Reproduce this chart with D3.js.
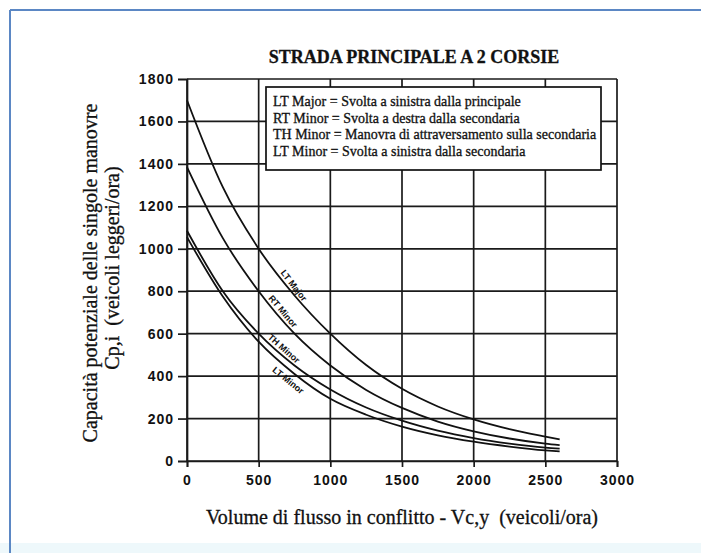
<!DOCTYPE html>
<meta charset="utf-8">
<head>
    <script type="text/javascript" src="https://cdn.jsdelivr.net/npm/d3@7"></script>
    <style>
        body { margin: 0; background: #fff; }
        text { fill: #111; }
        .serif { font-family: "Liberation Serif", "Times New Roman", serif; stroke: #111; stroke-width: 0.3px; }
        .tick text { font-family: "Liberation Sans", Arial, sans-serif; font-weight: bold; font-size: 14px; letter-spacing: 1px; }
    </style>
    <title>Strada principale a 2 corsie</title>
</head>
<body>
<script>

    // values
    var vc = [0, 250, 500, 750, 1000, 1250, 1500, 1750, 2000, 2250, 2500, 2600];
    var ltMajor = [1700, 1290, 1000, 780, 600, 452, 340, 257, 196, 150, 115, 102];
    var rtMinor = [1385, 1050, 800, 600, 450, 335, 250, 186, 140, 106, 82, 75];
    var thMinor = [1085, 800, 600, 450, 337, 252, 190, 143, 108, 82, 63, 58];
    var ltMinor = [1055, 775, 562, 410, 293, 218, 162, 121, 91, 68, 50, 45];
    var seriesNames = ["LT Major", "RT Minor", "TH Minor", "LT Minor"];
    var legendLines = [
        "LT Major = Svolta a sinistra dalla principale",
        "RT Minor = Svolta a destra dalla secondaria",
        "TH Minor = Manovra di attraversamento sulla secondaria",
        "LT Minor = Svolta a sinistra dalla secondaria"
    ];
    var xTicks = [0, 500, 1000, 1500, 2000, 2500, 3000];
    var yTicks = [0, 200, 400, 600, 800, 1000, 1200, 1400, 1600, 1800];

    // where the name sits along each curve (vc value, side of curve)
    var labelAt = [715, 640, 650, 745];
    var labelSide = [1, 1, 1, -1];

    var width = 701, height = 553;
    var margin = {top: 79, right: 84, bottom: 92, left: 187};

    var svg = d3.select("body").append("svg")
        .attr("width", width)
        .attr("height", height);

    // blue frame of the picture
    svg.append("rect").attr("x", 0).attr("y", 543).attr("width", width).attr("height", 10).attr("fill", "#eef8fb");
    svg.append("line").attr("x1", 10).attr("x2", width).attr("y1", 10).attr("y2", 10)
        .attr("stroke", "#5b87c4").attr("stroke-width", 2);
    svg.append("line").attr("x1", 10).attr("x2", 10).attr("y1", 10).attr("y2", height)
        .attr("stroke", "#5b87c4").attr("stroke-width", 2);

    var x = d3.scaleLinear().domain([0, 3000]).range([margin.left, width - margin.right]);
    var y = d3.scaleLinear().domain([0, 1800]).range([height - margin.bottom, margin.top]);

    // grid
    svg.append("g").selectAll("line").data(yTicks).join("line")
        .attr("x1", x(0)).attr("x2", x(3000))
        .attr("y1", d => y(d)).attr("y2", d => y(d))
        .attr("stroke", "#1a1a1a").attr("stroke-width", 1.7);
    svg.append("g").selectAll("line").data(xTicks).join("line")
        .attr("x1", d => x(d)).attr("x2", d => x(d))
        .attr("y1", y(0)).attr("y2", y(1800))
        .attr("stroke", "#1a1a1a").attr("stroke-width", 1.7);

    // axes
    var yAxis = svg.append("g").attr("transform", "translate(" + x(0) + ",0)")
        .call(d3.axisLeft(y).tickValues(yTicks).tickSize(9).tickPadding(4).tickFormat(d3.format("d")));
    var xAxis = svg.append("g").attr("transform", "translate(0," + y(0) + ")")
        .call(d3.axisBottom(x).tickValues(xTicks).tickSize(6).tickPadding(8).tickFormat(d3.format("d")));
    [yAxis, xAxis].forEach(function (a) {
        a.select(".domain").attr("stroke", "#1a1a1a").attr("stroke-width", 1.7);
        a.selectAll(".tick line").attr("stroke", "#1a1a1a").attr("stroke-width", 1.7);
    });

    // curves
    var series = [ltMajor, rtMinor, thMinor, ltMinor];
    var line = d3.line()
        .x((d, i) => x(vc[i]))
        .y(d => y(d))
        .curve(d3.curveMonotoneX);

    svg.append("g").selectAll("path").data(series).join("path")
        .attr("d", line)
        .attr("fill", "none")
        .attr("stroke", "#111")
        .attr("stroke-width", 1.8);

    // names written along the curves
    series.forEach(function (s, i) {
        var f = d3.scaleLinear().domain(vc).range(s);
        var v = labelAt[i];
        var x1 = x(v - 40), y1 = y(f(v - 40)), x2 = x(v + 40), y2 = y(f(v + 40));
        var dx = x2 - x1, dy = y2 - y1, len = Math.hypot(dx, dy);
        var ang = Math.atan2(dy, dx) * 180 / Math.PI;
        var off = labelSide[i] > 0 ? 5.5 : 9;
        var cx = x(v) + labelSide[i] * off * dy / len;
        var cy = y(f(v)) - labelSide[i] * off * dx / len;
        svg.append("text")
            .attr("transform", "translate(" + cx + "," + cy + ") rotate(" + ang + ")")
            .attr("text-anchor", "middle")
            .attr("dominant-baseline", "central")
            .style("font-family", "Liberation Sans, Arial, sans-serif")
            .style("font-weight", "bold")
            .style("font-size", "9px")
            .text(seriesNames[i]);
    });

    // legend box
    svg.append("rect")
        .attr("x", 266).attr("y", 87).attr("width", 335).attr("height", 83)
        .attr("fill", "#fff").attr("stroke", "#111").attr("stroke-width", 1.7);
    svg.append("g").selectAll("text").data(legendLines).join("text")
        .attr("class", "serif")
        .attr("x", 273)
        .attr("y", (d, i) => 106 + i * 16.7)
        .style("font-size", "14px")
        .text(d => d);

    // titles
    svg.append("text")
        .attr("class", "serif")
        .attr("x", 414).attr("y", 63)
        .attr("text-anchor", "middle")
        .style("font-size", "18px").style("font-weight", "bold")
        .text("STRADA PRINCIPALE A 2 CORSIE");

    svg.append("text")
        .attr("class", "serif")
        .attr("x", 402).attr("y", 524)
        .attr("text-anchor", "middle")
        .style("font-size", "20px").style("white-space", "pre")
        .text("Volume di flusso in conflitto - Vc,y  (veicoli/ora)");

    svg.append("text")
        .attr("class", "serif")
        .attr("transform", "translate(97,273) rotate(-90)")
        .attr("text-anchor", "middle")
        .style("font-size", "20px")
        .text("Capacità potenziale delle singole manovre");
    svg.append("text")
        .attr("class", "serif")
        .attr("transform", "translate(119,268) rotate(-90)")
        .attr("text-anchor", "middle")
        .style("font-size", "20px").style("white-space", "pre")
        .text("Cp,i  (veicoli leggeri/ora)");

</script>
</body>
</html>
